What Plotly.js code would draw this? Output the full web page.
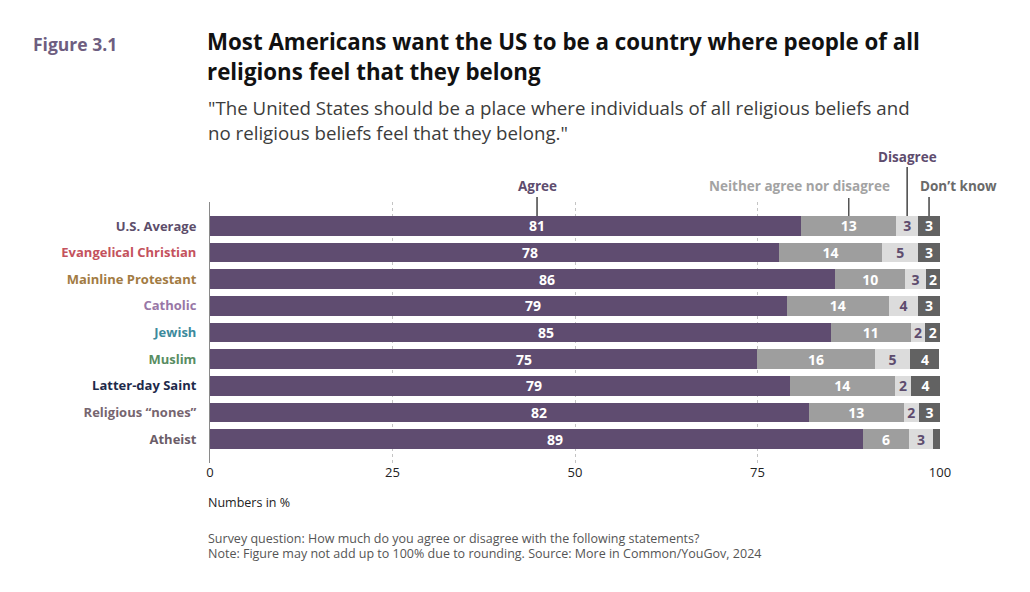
<!DOCTYPE html>
<html>
<head>
<meta charset="utf-8">
<script src="https://cdn.plot.ly/plotly-3.0.1.min.js"></script>
<style>
  html, body { margin: 0; padding: 0; background: #ffffff; }
  #chart { width: 1030px; height: 592px; }
</style>
</head>
<body>
<div id="chart"></div>
<script>
// ---- Data ----
const categories = [
  "U.S. Average", "Evangelical Christian", "Mainline Protestant", "Catholic",
  "Jewish", "Muslim", "Latter-day Saint", "Religious \u201cnones\u201d", "Atheist"
];
const categoryColors = [
  "#5d4e6b", "#c4525d", "#a27b43", "#9877a6",
  "#3d8a9c", "#588d62", "#1e2a4a", "#76656f", "#6b5d68"
];
const agree     = [81.0, 77.9, 85.65, 79.0, 85.05, 74.97, 79.4, 82.04, 89.4];
const neither   = [13.0, 14.2, 9.6, 14.0, 10.95, 16.06, 14.45, 12.96, 6.4];
const disagree  = [3.0, 4.9, 2.8, 4.0, 2.0, 4.9, 2.15, 2.1, 3.2];
const dontKnow  = [3.0, 3.0, 2.0, 3.0, 2.0, 4.0, 4.0, 2.9, 1.0];
const seriesNames = ["Agree", "Neither agree nor disagree", "Disagree", "Don\u2019t know"];
const xTicks = [0, 25, 50, 75, 100];

// ---- Styles ----
const COL_AGREE = "#5f4c70";
const COL_NEITHER = "#9e9e9e";
const COL_DISAGREE = "#dcdcdc";
const COL_DK = "#626262";
const FONT = "'Open Sans', Lato, sans-serif";

const lbl = arr => arr.map(v => (v >= 1.5 ? String(Math.round(v)) : ""));

function barTrace(name, values, color, textColor, showText) {
  return {
    type: "bar",
    orientation: "h",
    name: name,
    y: categories,
    x: values,
    width: 0.74,
    marker: { color: color, line: { width: 0 } },
    text: showText ? lbl(values) : undefined,
    textposition: showText ? "inside" : "none",
    textangle: 0,
    insidetextanchor: "middle",
    constraintext: "none",
    textfont: { family: FONT, size: 14, color: textColor, weight: 700 },
    insidetextfont: { family: FONT, size: 14, color: textColor, weight: 700 },
    hoverinfo: "x+name"
  };
}

const traces = [
  barTrace(seriesNames[0], agree, COL_AGREE, "#ffffff", false),
  barTrace(seriesNames[1], neither, COL_NEITHER, "#ffffff", true),
  barTrace(seriesNames[2], disagree, COL_DISAGREE, "#5e4c6e", true),
  barTrace(seriesNames[3], dontKnow, COL_DK, "#ffffff", true)
];

// Agree labels (placed toward the right part of the agree segment)
const agreeLabelX = agree.map(v => 0.3 * v + 20.5);
const annotations = [];
agree.forEach((v, i) => {
  annotations.push({
    x: agreeLabelX[i], y: categories[i], xref: "x", yref: "y",
    text: "<b>" + Math.round(v) + "</b>", showarrow: false,
    font: { family: FONT, size: 14, color: "#ffffff" }
  });
});

// Helper: paper coordinates from pixel coordinates (plot area 210..940 x 202..463)
const PT = 202, PB = 463;
const py = p => (PB - p) / (PB - PT);
const px = p => (p - 210) / 730;

// Series headers pointing at the first row
const first = {
  agree: agreeLabelX[0],
  neither: agree[0] + neither[0] / 2,
  disagree: agree[0] + neither[0] + disagree[0] / 2,
  dk: agree[0] + neither[0] + disagree[0] + dontKnow[0] / 2
};
annotations.push(
  { x: first.agree, y: py(186), xref: "x", yref: "paper", text: "<b>" + seriesNames[0] + "</b>",
    showarrow: false, xanchor: "center", yanchor: "middle",
    font: { family: FONT, size: 13.5, color: "#5e4c6e" } },
  { x: first.neither - 6.7, y: py(186), xref: "x", yref: "paper", text: "<b>" + seriesNames[1] + "</b>",
    showarrow: false, xanchor: "center", yanchor: "middle",
    font: { family: FONT, size: 13.5, color: "#a3a3a3" } },
  { x: first.disagree, y: py(157), xref: "x", yref: "paper", text: "<b>" + seriesNames[2] + "</b>",
    showarrow: false, xanchor: "center", yanchor: "middle",
    font: { family: FONT, size: 13.5, color: "#5e4c6e" } },
  { x: first.dk - 1.5, y: py(186), xref: "x", yref: "paper", text: "<b>" + seriesNames[3] + "</b>",
    showarrow: false, xanchor: "left", yanchor: "middle",
    font: { family: FONT, size: 13.5, color: "#6a6a6a" } }
);

const shapes = [
  { type: "line", xref: "x", yref: "paper", x0: first.agree, x1: first.agree, y0: py(197), y1: py(216),
    line: { color: "#444", width: 1.5 } },
  { type: "line", xref: "x", yref: "paper", x0: first.neither, x1: first.neither, y0: py(198), y1: py(216),
    line: { color: "#555", width: 1.5 } },
  { type: "line", xref: "x", yref: "paper", x0: first.disagree, x1: first.disagree, y0: py(167), y1: py(216),
    line: { color: "#444", width: 1.5 } },
  { type: "line", xref: "x", yref: "paper", x0: first.dk, x1: first.dk, y0: py(197), y1: py(216),
    line: { color: "#444", width: 1.5 } }
];

// Titles and notes
annotations.push(
  { xref: "paper", yref: "paper", x: px(31), y: py(44), xanchor: "left", yanchor: "middle",
    text: "<b>Figure 3.1</b>", showarrow: false, font: { family: FONT, size: 17.5, color: "#6e5e80" } },
  { xref: "paper", yref: "paper", x: px(205), y: py(42), xanchor: "left", yanchor: "middle",
    text: "<b>Most Americans want the US to be a country where people of all</b>", showarrow: false,
    font: { family: FONT, size: 22.3, color: "#111111" } },
  { xref: "paper", yref: "paper", x: px(205), y: py(71), xanchor: "left", yanchor: "middle",
    text: "<b>religions feel that they belong</b>", showarrow: false,
    font: { family: FONT, size: 22.3, color: "#111111" } },
  { xref: "paper", yref: "paper", x: px(206), y: py(107), xanchor: "left", yanchor: "middle",
    text: "\"The United States should be a place where individuals of all religious beliefs and", showarrow: false,
    font: { family: FONT, size: 18.7, color: "#3c3c3c" } },
  { xref: "paper", yref: "paper", x: px(206), y: py(132), xanchor: "left", yanchor: "middle",
    text: "no religious beliefs feel that they belong.\"", showarrow: false,
    font: { family: FONT, size: 18.7, color: "#3c3c3c" } },
  { xref: "paper", yref: "paper", x: px(206), y: py(502), xanchor: "left", yanchor: "middle",
    text: "Numbers in %", showarrow: false, font: { family: FONT, size: 12.5, color: "#222222" } },
  { xref: "paper", yref: "paper", x: px(206), y: py(538), xanchor: "left", yanchor: "middle",
    text: "Survey question: How much do you agree or disagree with the following statements?", showarrow: false,
    font: { family: FONT, size: 12.5, color: "#555555" } },
  { xref: "paper", yref: "paper", x: px(206), y: py(553), xanchor: "left", yanchor: "middle",
    text: "Note: Figure may not add up to 100% due to rounding. Source: More in Common/YouGov, 2024", showarrow: false,
    font: { family: FONT, size: 12.5, color: "#555555" } }
);

const layout = {
  width: 1030, height: 592,
  margin: { l: 210, r: 90, t: PT, b: 592 - PB, pad: 0 },
  paper_bgcolor: "#ffffff", plot_bgcolor: "#ffffff",
  barmode: "stack",
  bargap: 0.26,
  showlegend: false,
  font: { family: FONT, size: 13, color: "#333" },
  xaxis: {
    range: [0, 100],
    tickvals: xTicks,
    ticktext: xTicks.map(String),
    showgrid: true, gridcolor: "#c4c4c4", griddash: "dot", gridwidth: 1,
    zeroline: false, showline: false, ticks: "",
    tickfont: { family: FONT, size: 13, color: "#222" },
    fixedrange: true
  },
  yaxis: {
    type: "category",
    categoryorder: "array", categoryarray: categories,
    range: [8.9, -0.9],
    tickvals: categories,
    ticktext: categories.map((c, i) => '<span style="color:' + categoryColors[i] + '"><b>' + c + '</b></span>'),
    tickfont: { family: FONT, size: 13 },
    showgrid: false, zeroline: false,
    showline: true, linecolor: "#8a8a8a", linewidth: 1,
    ticks: "", ticklabelstandoff: 10,
    fixedrange: true
  },
  annotations: annotations,
  shapes: shapes
};

Plotly.newPlot("chart", traces, layout, { displayModeBar: false, staticPlot: true });
</script>
</body>
</html>
